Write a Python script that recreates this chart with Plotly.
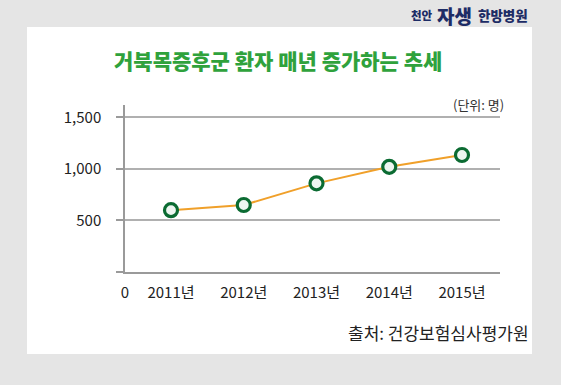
import plotly.graph_objects as go

# ---- data ----
years = [2011, 2012, 2013, 2014, 2015]
year_labels = ["2011년", "2012년", "2013년", "2014년", "2015년"]
patients = [600, 650, 860, 1020, 1135]
y_ticks = [0, 500, 1000, 1500]
y_tick_labels = ["", "500", "1,000", "1,500"]

W, H = 561, 385
L, R, T, B = 125, 61, 105, 113
PW, PH = W - L - R, H - T - B

def px(x):
    return (x - L) / PW

def py(y):
    return (H - B - y) / PH

x0 = 2011 - 46 / 72.75
x1 = 2011 + (500 - 171) / 72.75

FONT = "Noto Sans CJK KR"

fig = go.Figure()
fig.add_trace(go.Scatter(
    x=years, y=patients, mode="lines+markers",
    line=dict(color="#f0a02a", width=2),
    marker=dict(size=13, color="#eef6f1", line=dict(color="#0b6b32", width=3.2)),
    hoverinfo="skip", showlegend=False, cliponaxis=False,
))

fig.update_layout(
    width=W, height=H,
    margin=dict(l=L, r=R, t=T, b=B, pad=0),
    paper_bgcolor="#e5e5e5",
    plot_bgcolor="white",
    font=dict(family=FONT, color="#222222"),
    xaxis=dict(
        range=[x0, x1], tickvals=[x0] + years, ticktext=["0"] + year_labels,
        showgrid=False, zeroline=False, showline=True, linecolor="#9a9a9a", linewidth=1.5,
        ticks="", tickfont=dict(size=15, color="#222222", family=FONT),
        ticklabelstandoff=6, fixedrange=True,
    ),
    yaxis=dict(
        range=[0, 1620], tickvals=y_ticks, ticktext=y_tick_labels,
        showgrid=True, gridcolor="#b0b0b0", gridwidth=1.5, zeroline=False,
        showline=True, linecolor="#9a9a9a", linewidth=1.5,
        ticks="outside", ticklen=7, tickcolor="#9a9a9a", tickwidth=1.5,
        tickfont=dict(size=15, color="#222222", family=FONT),
        ticklabelstandoff=12, fixedrange=True,
    ),
    shapes=[
        dict(type="rect", xref="paper", yref="paper", layer="below",
             x0=px(27), x1=px(532), y0=py(354), y1=py(27),
             fillcolor="white", line=dict(width=0)),
    ],
    annotations=[
        dict(text="거북목증후군 환자 매년 증가하는 추세", xref="paper", yref="paper",
             x=px(278), y=py(60), xanchor="center", yanchor="middle", showarrow=False,
             font=dict(size=21, color="#2fa23c", family=FONT, weight=900)),
        dict(text="(단위: 명)", xref="paper", yref="paper",
             x=px(506), y=py(104), xanchor="right", yanchor="middle", showarrow=False,
             font=dict(size=13, color="#333333", family=FONT)),
        dict(text="출처: 건강보험심사평가원", xref="paper", yref="paper",
             x=px(531), y=py(332), xanchor="right", yanchor="middle", showarrow=False,
             font=dict(size=17, color="#222222", family=FONT)),
        dict(text="천안", xref="paper", yref="paper",
             x=px(409), y=py(15), xanchor="left", yanchor="middle", showarrow=False,
             font=dict(size=11.5, color="#1d2c66", family=FONT, weight=900)),
        dict(text="자생", xref="paper", yref="paper",
             x=px(435), y=py(15), xanchor="left", yanchor="middle", showarrow=False,
             font=dict(size=19, color="#1d2c66", family=FONT, weight=900)),
        dict(text="한방병원", xref="paper", yref="paper",
             x=px(476), y=py(15), xanchor="left", yanchor="middle", showarrow=False,
             font=dict(size=13.5, color="#1d2c66", family=FONT, weight=900)),
    ],
)

fig.write_html("out.html", config={"displayModeBar": False},
               post_script="document.body.style.margin='0';")
